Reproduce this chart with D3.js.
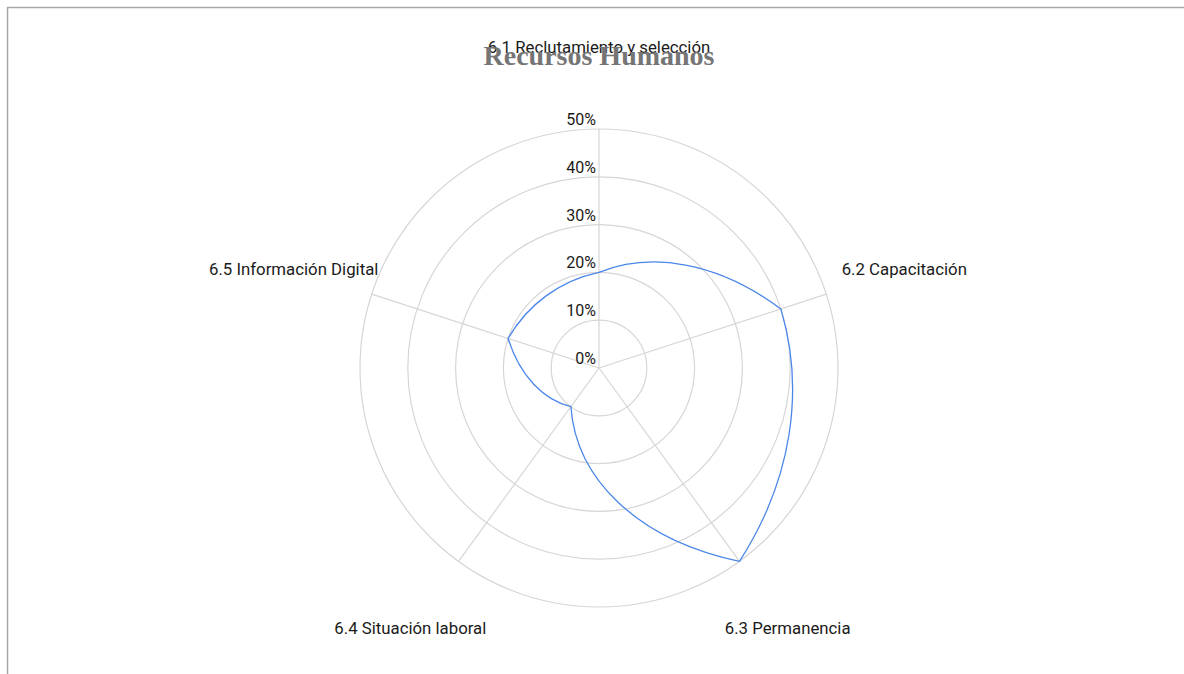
<!DOCTYPE html>
<html>
<head>
<meta charset="utf-8">
<script src="https://cdn.jsdelivr.net/npm/d3@7"></script>
<style>
  body { margin: 0; background: #fff; }
</style>
</head>
<body>
<div id="container"></div>
<script>
// page size
let w = 1184;
let h = 674;

// data
let categories = ["6.1 Reclutamiento y selección", "6.2 Capacitación", "6.3 Permanencia", "6.4 Situación laboral", "6.5 Información Digital"];
let values = [0.20, 0.40, 0.50, 0.10, 0.20];
let tickValues = [0, 0.1, 0.2, 0.3, 0.4, 0.5];
let tickLabels = ["0%", "10%", "20%", "30%", "40%", "50%"];

let cx = 599;
let cy = 368;
let R = 239;

let viz = d3.select("#container")
  .append("svg")
    .attr("width", w)
    .attr("height", h)
    .style("display", "block")
;

// frame (top and left edges visible)
viz.append("line").attr("x1", 7).attr("y1", 7.5).attr("x2", w).attr("y2", 7.5)
  .attr("stroke", "#a6a6a6").attr("stroke-width", 1.5);
viz.append("line").attr("x1", 7.5).attr("y1", 7).attr("x2", 7.5).attr("y2", h)
  .attr("stroke", "#a6a6a6").attr("stroke-width", 1.5);

// scales
let rScale = d3.scaleLinear().domain([0, 0.5]).range([0, R]);
let aScale = d3.scaleLinear().domain([0, categories.length]).range([0, 2 * Math.PI]);

function polar(a, r) {
  return [cx + r * Math.sin(a), cy - r * Math.cos(a)];
}

let chart = viz.append("g");

// rings
chart.selectAll(".ring").data(tickValues.slice(1)).enter()
  .append("circle")
    .attr("class", "ring")
    .attr("cx", cx)
    .attr("cy", cy)
    .attr("r", d => rScale(d))
    .attr("fill", "none")
    .attr("stroke", "#d6d6d6")
    .attr("stroke-width", 1.2)
;

// spokes
chart.selectAll(".spoke").data(categories).enter()
  .append("line")
    .attr("class", "spoke")
    .attr("x1", cx)
    .attr("y1", cy)
    .attr("x2", (d, i) => polar(aScale(i), R)[0])
    .attr("y2", (d, i) => polar(aScale(i), R)[1])
    .attr("stroke", "#d6d6d6")
    .attr("stroke-width", 1.2)
;

// series line: each segment is a cubic with control points on the polar straight line
let p = d3.path();
let n = values.length;
for (let i = 0; i < n; i++) {
  let j = (i + 1) % n;
  let a0 = aScale(i), a1 = aScale(i + 1);
  let r0 = rScale(values[i]), r1 = rScale(values[j]);
  let p0 = polar(a0, r0);
  let c1 = polar(a0 + (a1 - a0) / 3, r0 + (r1 - r0) / 3);
  let c2 = polar(a0 + 2 * (a1 - a0) / 3, r0 + 2 * (r1 - r0) / 3);
  let p1 = polar(a1, r1);
  if (i === 0) p.moveTo(p0[0], p0[1]);
  p.bezierCurveTo(c1[0], c1[1], c2[0], c2[1], p1[0], p1[1]);
}
p.closePath();

chart.append("path")
  .attr("d", p.toString())
  .attr("fill", "none")
  .attr("stroke", "#4a86e8")
  .attr("stroke-width", 1.3)
;

// tick labels
chart.selectAll(".tick").data(tickValues).enter()
  .append("text")
    .attr("class", "tick")
    .attr("x", cx - 3)
    .attr("y", d => cy - rScale(d) - 4)
    .attr("text-anchor", "end")
    .style("font-family", "Roboto, sans-serif")
    .style("font-size", "16px")
    .attr("fill", "#1a1a1a")
    .text((d, i) => tickLabels[i])
;

// title (drawn under the first category label)
viz.append("text")
  .attr("x", cx)
  .attr("y", 65)
  .attr("text-anchor", "middle")
  .style("font-family", "'Liberation Serif', 'Times New Roman', serif")
  .style("font-weight", "bold")
  .style("font-size", "28px")
  .attr("fill", "#757575")
  .text("Recursos Humanos")
;

// category labels
chart.selectAll(".cat").data(categories).enter()
  .append("text")
    .attr("class", "cat")
    .attr("x", (d, i) => polar(aScale(i), 321)[0])
    .attr("y", (d, i) => polar(aScale(i), 321)[1] + 6)
    .attr("text-anchor", "middle")
    .style("font-family", "Roboto, sans-serif")
    .style("font-size", "16.8px")
    .attr("fill", "#1a1a1a")
    .text(d => d)
;
</script>
</body>
</html>
